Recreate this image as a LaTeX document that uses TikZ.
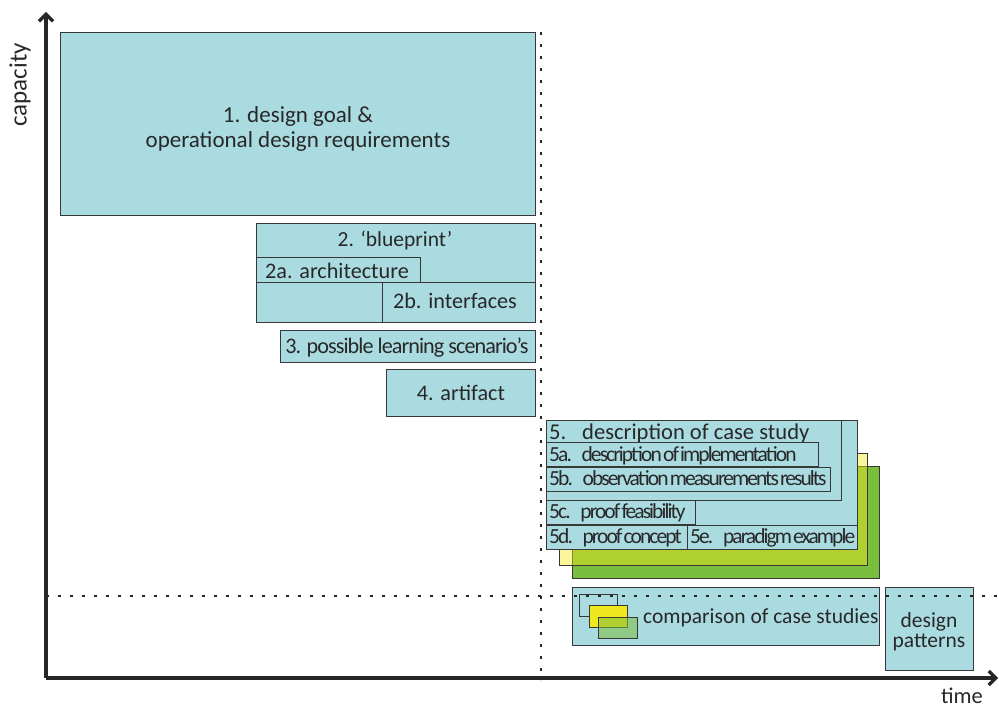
\documentclass[tikz,border=0pt]{standalone}
\usepackage{fontspec}
\setmainfont{Carlito}
\newfontfamily\condfont[LetterSpace=-9,WordSpace=0.4]{Carlito}
\newfontfamily\semicondfont[LetterSpace=-4.3]{Carlito}
\usetikzlibrary{arrows.meta,fit}
\definecolor{boxblue}{RGB}{170,219,224}
\definecolor{linegray}{RGB}{55,55,55}
\definecolor{textgray}{RGB}{40,40,40}
\definecolor{paleyellow}{RGB}{240,232,30}
\definecolor{grassgreen}{RGB}{122,190,62}
\begin{document}
\begin{tikzpicture}[x=1pt,y=-1pt,
  box/.style={draw=linegray, line width=0.8pt, fill=boxblue, inner sep=0pt},
  lbl/.style={text=textgray, inner sep=0pt, anchor=base, font=\fontsize{#1}{25}\selectfont},
  lbl/.default=22.2,
  cond/.style={text=textgray, inner sep=0pt, anchor=base west, font=\condfont\fontsize{21.5}{25}\selectfont},
  axis/.style={line width=3.2pt, draw=black!85, -{Straight Barb[length=7pt,width=14pt,line width=3.2pt]}},
  dotline/.style={line width=2.6pt, draw=black!85, dash pattern=on 2.6pt off 9.4pt}
]
\useasboundingbox (0,0) rectangle (999,709);

% axes
\coordinate (O) at (46,678);
\coordinate (ytip) at (46,12);
\coordinate (xtip) at (998,678);
\draw[axis] (O) -- (ytip);
\draw[axis] (O) -- (xtip);
\node[lbl=25, anchor=center, rotate=90] (ylab) at (20,85) {capacity};
\node[lbl=22.5] (xlab) at (962,703) {time};

% 1
\node[box, fit={(60,32) (535,215)}] (b1) {};
\node[lbl=23] (t1a) at (298,122) {1. design goal \&};
\node[lbl=23] (t1b) at (298,147) {operational design requirements};

% 2
\node[box, fit={(256,223) (535,322)}] (b2) {};
\node[lbl=21.5] (t2) at (395,246) {2. ‘blueprint’};
\node[box, fit={(256,257) (420,282)}] (b2a) {};
\node[lbl] (t2a) at (337,278) {2a. architecture};
\node[box, fit={(382,282) (535,322)}] (b2b) {};
\node[lbl] (t2b) at (455,308) {2b. interfaces};

% 3, 4
\node[box, fit={(280,330) (535,362)}] (b3) {};
\node[lbl, font=\semicondfont\fontsize{22.2}{25}\selectfont] (t3) at (407,353) {3. possible learning scenario’s};
\node[box, fit={(386,369) (535,416)}] (b4) {};
\node[lbl] (t4) at (461,400) {4. artifact};

% 5 stack
\node[draw=linegray, line width=0.8pt, fill=grassgreen, inner sep=0pt, fit={(572,466) (879,578)}] (g5) {};
\node[draw=linegray, line width=0.8pt, fill=paleyellow, fill opacity=0.45, inner sep=0pt, fit={(559,453) (867,565)}] (y5) {};
\node[box, fit={(546,420) (857,549)}] (b5out) {};
\node[box, fit={(546,420) (841,500)}] (b5) {};
\node[lbl=22.6, anchor=base west] (t5) at (549,439) {5.\hspace{0.7em}description of case study};
\node[box, fit={(546,442) (818,466)}] (b5a) {};
\node[cond] (t5a) at (549,461) {5a.\hspace{0.45em}description of implementation};
\node[box, fit={(546,467) (830,491)}] (b5b) {};
\node[cond] (t5b) at (549,485) {5b.\hspace{0.45em}observation measurements results};
\node[box, fit={(546,500) (695,524)}] (b5c) {};
\node[cond] (t5c) at (549,518) {5c.\hspace{0.45em}proof feasibility};
\node[box, fit={(546,525) (687,549)}] (b5d) {};
\node[cond] (t5d) at (549,543) {5d.\hspace{0.45em}proof concept};
\node[box, fit={(687,525) (857,549)}] (b5e) {};
\node[cond] (t5e) at (690,543) {5e.\hspace{0.45em}paradigm example};

% comparison
\node[box, fit={(572,587) (879,645)}] (bc) {};
\node[draw=linegray, line width=0.8pt, inner sep=0pt, fit={(579,594) (617,616)}] (ic1) {};
\node[draw=linegray, line width=0.8pt, fill=paleyellow, inner sep=0pt, fit={(589,605) (627,627)}] (ic2) {};
\node[draw=linegray, line width=0.8pt, fill=grassgreen, fill opacity=0.55, inner sep=0pt, fit={(598,617) (637,638)}] (ic3) {};
\node[lbl=21.5, anchor=base west] (tc) at (643,623) {comparison of case studies};

% design patterns
\node[box, fit={(885,587) (973,670)}] (bd) {};
\node[lbl=21.5] (td1) at (929,627) {design};
\node[lbl=21.5] (td2) at (929,647) {patterns};

% dotted lines
\draw[dotline] (541,32) -- (541,680);
\draw[dotline] (46,596) -- (999,596);
\end{tikzpicture}
\end{document}
